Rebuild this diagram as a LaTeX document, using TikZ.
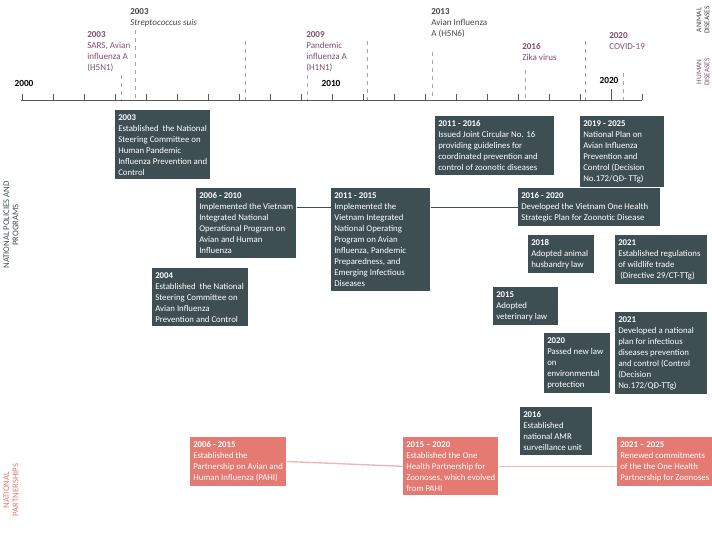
\documentclass[tikz,border=0pt]{standalone}
\usepackage{fontspec}
\setmainfont{Carlito}
\usepackage{tikz}

\definecolor{boxdark}{RGB}{62,79,84}
\definecolor{boxsalmon}{RGB}{229,122,114}
\definecolor{human}{RGB}{125,80,110}
\definecolor{animal}{RGB}{70,70,70}
\definecolor{linkpink}{RGB}{240,180,178}
\newcommand{\boxfont}{\fontsize{6.6}{8.3}\selectfont\hyphenpenalty=10000\relax\exhyphenpenalty=10000\relax}

\tikzset{
  pbox/.style={fill=boxdark, text=white, anchor=north west, align=flush left,
    inner xsep=2.25pt, inner ysep=3pt, text width=#1, font={\boxfont}},
  sbox/.style={pbox={#1}, fill=boxsalmon},
  dlabel/.style={anchor=north west, align=left, inner sep=0pt,
    font={\fontsize{6.8}{8.3}\selectfont}},
  yr/.style={font={\fontsize{7}{8}\selectfont\bfseries}, inner sep=0pt},
  vdash/.style={dashed, draw=gray!70, line width=0.5pt},
  side/.style={rotate=90, align=center, inner sep=0pt, font={\fontsize{5.5}{6}\selectfont}},
}

\begin{document}
\begin{tikzpicture}[x=0.75pt,y=0.75pt,yscale=-1,xscale=1]
\useasboundingbox (0,0) rectangle (712,538);

% timeline axis
\draw[gray!70!black, line width=0.5pt] (21,100) -- (642,100);
\foreach \i in {0,...,20}
  \draw[gray!70!black, line width=0.5pt] (22+31*\i,100) -- (22+31*\i,94);
\draw[gray!70!black, line width=0.5pt] (611,100) -- (611,89);
\node[yr] (y2000) at (24,83) {2000};
\node[yr] (y2010) at (331,83) {2010};
\node[yr] (y2020) at (609,80) {2020};

% dashed disease markers
\foreach \x/\t in {121/75, 135/30, 245/41, 307/75, 367/41, 432/52, 525/70, 585/41, 623/73}
  \draw[vdash] (\x,\t) -- (\x,100);

% disease labels
\node[dlabel, text=human] (sars) at (87,31) {\textbf{2003}\\SARS, Avian\\influenza A\\(H5N1)};
\node[dlabel, text=animal] (strep) at (130,8) {\textbf{2003}\\\textit{Streptococcus suis}};
\node[dlabel, text=human] (h1n1) at (306,31) {\textbf{2009}\\Pandemic\\influenza A\\(H1N1)};
\node[dlabel, text=animal] (h5n6) at (431,8) {\textbf{2013}\\Avian Influenza\\A (H5N6)};
\node[dlabel, text=human] (zika) at (522,43) {\textbf{2016}\\Zika virus};
\node[dlabel, text=human] (covid) at (609,32) {\textbf{2020}\\COVID-19};

% side labels
\node[side, text=animal] (animal) at (703,20) {ANIMAL\\DISEASES};
\node[side, text=human] (humanl) at (703,72) {HUMAN\\DISEASES};
\node[side, text=boxdark, font={\fontsize{6.5}{7}\selectfont}] (pol) at (11,225) {NATIONAL POLICIES AND\\PROGRAMS};
\node[side, text=boxsalmon, font={\fontsize{6.5}{7}\selectfont}] (par) at (11,490) {NATIONAL\\PARTNERSHIPS};

% national policies and programs
\node[pbox=66.75pt] (p2003) at (115,110) {\textbf{2003}\\Established\ \ the National Steering Committee on Human Pandemic Influenza Prevention and Control};
\node[pbox=70.5pt] (p0610) at (196,188) {\textbf{2006 - 2010}\\Implemented the Vietnam Integrated National Operational Program on Avian and Human Influenza};
\node[pbox=67.5pt] (p2004) at (152,268) {\textbf{2004}\\Established\ \ the National Steering Committee on Avian Influenza Prevention and Control};
\node[pbox=69.75pt] (p1115) at (331,188) {\textbf{2011 - 2015}\\Implemented the Vietnam Integrated National Operating Program on Avian Influenza, Pandemic Preparedness, and Emerging Infectious Diseases};
\node[pbox=84.75pt] (p1116) at (435,116) {\textbf{2011 - 2016}\\Issued Joint Circular No. 16 providing guidelines for coordinated prevention and control of zoonotic diseases};
\node[pbox=58.5pt] (p1925) at (580,116) {\textbf{2019 - 2025}\\National Plan on Avian Influenza Prevention and Control (Decision No.172/QĐ- TTg)};
\node[pbox=102pt] (p1620) at (518,188) {\textbf{2016 - 2020}\\Developed the Vietnam One Health Strategic Plan for Zoonotic Disease};
\node[pbox=45pt] (p2018) at (528,235) {\textbf{2018}\\Adopted animal husbandry law};
\node[pbox=64.5pt] (p2021a) at (615,235) {\textbf{2021}\\Established regulations of wildlife trade\\\ (Directive 29/CT-TTg)};
\node[pbox=44.25pt] (p2015) at (493,287) {\textbf{2015}\\Adopted veterinary law};
\node[pbox=64.5pt] (p2021b) at (615,312) {\textbf{2021}\\Developed a national plan for infectious diseases prevention and control (Control (Decision No.172/QĐ-TTg)};
\node[pbox=45pt] (p2020) at (544,333) {\textbf{2020}\\Passed new law on environmental protection};
\node[pbox=49.5pt] (p2016) at (520,407) {\textbf{2016}\\Established national AMR surveillance unit};

\draw[boxdark, line width=0.6pt] (p0610.east |- p1620.west) -- (p1115.west |- p1620.west);
\draw[boxdark, line width=0.6pt] (p1115.east |- p1620.west) -- (p1620.west);

% national partnerships
\node[sbox=67.5pt] (n0615) at (190,437) {\textbf{2006 - 2015}\\Established the Partnership on Avian and Human Influenza (PAHI)};
\node[sbox=66.75pt] (n1520) at (403,437) {\textbf{2015 – 2020}\\Established the One Health Partnership for Zoonoses, which evolved from PAHI};
\node[sbox=66.75pt] (n2125) at (617,437) {\textbf{2021 – 2025}\\Renewed commitments of the the One Health Partnership for Zoonoses};

\draw[linkpink, line width=1pt] (n0615.east) -- (n1520.west);
\draw[linkpink, line width=1pt] (n1520.east) -- (n2125.west |- n1520.east);

\end{tikzpicture}
\end{document}
